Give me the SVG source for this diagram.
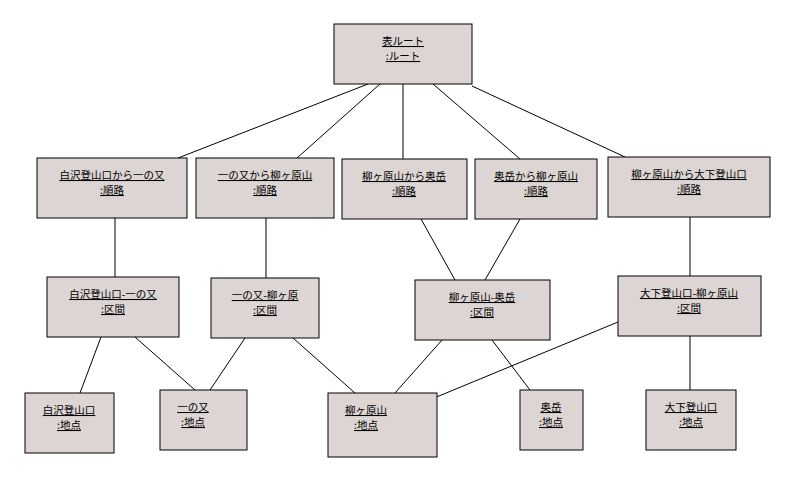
<svg xmlns="http://www.w3.org/2000/svg" width="796" height="479" viewBox="0 0 796 479">
<style>
rect{fill:#ddd5d3;stroke:#000;stroke-width:1}
text{font-family:"Noto Sans CJK JP","Liberation Sans",sans-serif;font-size:10.5px;text-anchor:middle;text-decoration:underline;fill:#000}
#edges line{stroke:#000;stroke-width:1}
</style>
<rect x="0" y="0" width="796" height="479" style="fill:#fff;stroke:none"/>
<g id="edges">
<line x1="368" y1="84" x2="178" y2="158"/>
<line x1="380" y1="84" x2="297" y2="158"/>
<line x1="403" y1="84" x2="403" y2="159"/>
<line x1="433" y1="84" x2="520" y2="159"/>
<line x1="472" y1="86" x2="625" y2="157"/>
<line x1="115" y1="218" x2="115" y2="277"/>
<line x1="266" y1="218" x2="266" y2="278"/>
<line x1="421" y1="219" x2="455" y2="280"/>
<line x1="520" y1="219" x2="485" y2="280"/>
<line x1="690" y1="217" x2="690" y2="276"/>
<line x1="101" y1="337" x2="80" y2="393"/>
<line x1="135" y1="337" x2="195" y2="390"/>
<line x1="245" y1="338" x2="210" y2="390"/>
<line x1="293" y1="338" x2="355" y2="393"/>
<line x1="442" y1="340" x2="395" y2="393"/>
<line x1="492" y1="340" x2="530" y2="390"/>
<line x1="618" y1="322" x2="405" y2="410"/>
<line x1="690" y1="336" x2="690" y2="390"/>
</g>
<g id="root"><rect x="334" y="24" width="138" height="60"/><text x="403" y="45">表ルート</text><text x="403" y="60">:ルート</text></g>
<g id="r1"><rect x="37" y="158" width="150" height="60"/><text x="112" y="179">白沢登山口から一の又</text><text x="112" y="194">:順路</text></g>
<g id="r2"><rect x="196" y="158" width="138" height="60"/><text x="265" y="179">一の又から柳ヶ原山</text><text x="265" y="194">:順路</text></g>
<g id="r3"><rect x="342" y="159" width="125" height="60"/><text x="404" y="180">柳ヶ原山から奥岳</text><text x="404" y="195">:順路</text></g>
<g id="r4"><rect x="475" y="159" width="122" height="60"/><text x="536" y="180">奥岳から柳ヶ原山</text><text x="536" y="195">:順路</text></g>
<g id="r5"><rect x="608" y="157" width="162" height="60"/><text x="689" y="178">柳ヶ原山から大下登山口</text><text x="689" y="193">:順路</text></g>
<g id="s1"><rect x="47" y="277" width="132" height="60"/><text x="113" y="298">白沢登山口-一の又</text><text x="113" y="313">:区間</text></g>
<g id="s2"><rect x="211" y="278" width="108" height="60"/><text x="265" y="299">一の又-柳ヶ原</text><text x="265" y="314">:区間</text></g>
<g id="s3"><rect x="415" y="280" width="135" height="60"/><text x="482" y="301">柳ヶ原山-奥岳</text><text x="482" y="316">:区間</text></g>
<g id="s4"><rect x="618" y="276" width="143" height="60"/><text x="689" y="297">大下登山口-柳ヶ原山</text><text x="689" y="312">:区間</text></g>
<g id="p1"><rect x="25" y="393" width="89" height="60"/><text x="69" y="414">白沢登山口</text><text x="69" y="429">:地点</text></g>
<g id="p2"><rect x="160" y="390" width="87" height="60"/><text x="193" y="411">一の又</text><text x="193" y="426">:地点</text></g>
<g id="p3"><rect x="328" y="393" width="109" height="64"/><text x="366" y="414">柳ヶ原山</text><text x="366" y="429">:地点</text></g>
<g id="p4"><rect x="520" y="390" width="63" height="60"/><text x="551" y="411">奥岳</text><text x="551" y="426">:地点</text></g>
<g id="p5"><rect x="646" y="390" width="90" height="60"/><text x="691" y="411">大下登山口</text><text x="691" y="426">:地点</text></g>
</svg>
